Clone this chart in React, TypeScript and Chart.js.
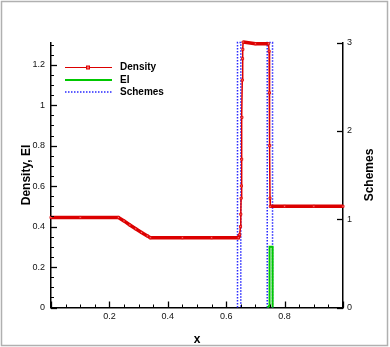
import React, { useEffect, useRef } from 'react';
import { Chart, registerables } from 'chart.js';

Chart.register(...registerables);

// ---- data ----
const densityX = [0, 0.1, 0.231, 0.25, 0.27, 0.29, 0.31, 0.33, 0.34, 0.45, 0.55, 0.642, 0.646, 0.649, 0.65, 0.651, 0.652, 0.653, 0.654, 0.655, 0.656, 0.657, 0.658, 0.7, 0.745, 0.747, 0.748, 0.749, 0.75, 0.751, 0.8, 0.9, 1.0];
const densityY = [0.445, 0.445, 0.445, 0.428, 0.408, 0.389, 0.371, 0.354, 0.345, 0.345, 0.345, 0.345, 0.36, 0.40, 0.461, 0.54, 0.601, 0.733, 0.94, 1.124, 1.23, 1.276, 1.312, 1.304, 1.304, 1.267, 1.061, 0.80, 0.54, 0.5, 0.5, 0.5, 0.5];

const eiX = [0, 0.7416, 0.745, 0.748, 0.7485, 0.7585, 0.759, 1];
const eiY = [0, 0, 0.005, 0.01, 0.30, 0.30, 0, 0];

const schemesX = [0, 0.6387, 0.6387, 0.650, 0.650, 0.7405, 0.7405, 0.7587, 0.7587, 1];
const schemesY = [0, 0, 3, 3, 0, 0, 3, 3, 0, 0];

const xTicks = [0.2, 0.4, 0.6, 0.8];
const xTickLabels = ['0.2', '0.4', '0.6', '0.8'];
const yTicks = [0, 0.2, 0.4, 0.6, 0.8, 1, 1.2];
const yTickLabels = ['0', '0.2', '0.4', '0.6', '0.8', '1', '1.2'];
const y1Ticks = [0, 1, 2, 3];
const y1TickLabels = ['0', '1', '2', '3'];

const FONT = "'Liberation Sans', Arial, Helvetica, sans-serif";
const RED = 'rgb(220,0,0)';
const PINK = 'rgb(255,110,110)';
const GREEN = 'rgb(0,200,0)';
const BLUE = 'rgb(40,40,255)';

const toPts = (xs: number[], ys: number[]) => xs.map((x, i) => ({ x, y: ys[i] }));

const framePlugin = {
  id: 'frame',
  beforeDraw(chart: any) {
    const { ctx } = chart;
    ctx.save();
    ctx.strokeStyle = '#b0b0b0';
    ctx.lineWidth = 1.5;
    ctx.strokeRect(1.5, 1.5, 386, 344);
    ctx.restore();
  },
};

const ticksPlugin = {
  id: 'inTicks',
  afterDatasetsDraw(chart: any) {
    const { ctx, chartArea: a, scales } = chart;
    ctx.save();
    ctx.strokeStyle = '#000';
    const seg = (x1: number, y1: number, x2: number, y2: number, w: number) => {
      ctx.lineWidth = w;
      ctx.beginPath();
      ctx.moveTo(x1, y1);
      ctx.lineTo(x2, y2);
      ctx.stroke();
    };
    for (let i = 0; i <= 20; i++) {
      const px = Math.round(scales.x.getPixelForValue(i * 0.05)) + 0.5;
      const major = i % 4 === 0;
      seg(px, a.bottom, px, a.bottom - (major ? 6 : 3), major ? 1.3 : 1);
    }
    for (let i = 0; i <= 26; i++) {
      const py = Math.round(scales.y.getPixelForValue(i * 0.05)) + 0.5;
      const major = i % 4 === 0;
      seg(a.left, py, a.left + (major ? 6 : 3), py, major ? 1.3 : 1);
    }
    for (const v of y1Ticks) {
      const py = Math.round(scales.y1.getPixelForValue(v)) + 0.5;
      seg(a.right, py, a.right - 6, py, 1.3);
    }
    ctx.restore();
  },
};

const legendPlugin = {
  id: 'customLegend',
  afterDraw(chart: any) {
    const { ctx } = chart;
    ctx.save();
    const x0 = 65, x1 = 112, tx = 120;
    const rows = [67.5, 80, 92];
    // Density
    ctx.strokeStyle = RED;
    ctx.lineWidth = 1;
    ctx.beginPath(); ctx.moveTo(x0, rows[0]); ctx.lineTo(x1, rows[0]); ctx.stroke();
    ctx.fillStyle = PINK;
    ctx.fillRect(86.5, rows[0] - 1.5, 3, 3);
    ctx.strokeRect(86.5, rows[0] - 1.5, 3, 3);
    // EI
    ctx.strokeStyle = GREEN;
    ctx.lineWidth = 2;
    ctx.beginPath(); ctx.moveTo(x0, rows[1]); ctx.lineTo(x1, rows[1]); ctx.stroke();
    // Schemes
    ctx.strokeStyle = BLUE;
    ctx.lineWidth = 1.5;
    ctx.setLineDash([1.5, 1.5]);
    ctx.beginPath(); ctx.moveTo(x0, rows[2]); ctx.lineTo(x1, rows[2]); ctx.stroke();
    ctx.setLineDash([]);
    ctx.fillStyle = '#000';
    ctx.font = `bold 10px ${FONT}`;
    ctx.textBaseline = 'middle';
    ctx.textAlign = 'left';
    ctx.fillText('Density', tx, rows[0]);
    ctx.fillText('EI', tx, rows[1]);
    ctx.fillText('Schemes', tx, rows[2]);
    // right axis title
    const a = chart.chartArea;
    ctx.translate(370, (a.top + a.bottom) / 2);
    ctx.rotate(-Math.PI / 2);
    ctx.textAlign = 'center';
    ctx.font = `bold 12px ${FONT}`;
    ctx.fillText('Schemes', 0, 0);
    ctx.restore();
  },
};

const zeroHidden = (color: string) => (c: any) =>
  c.p0.parsed.y === 0 && c.p1.parsed.y === 0 ? 'rgba(0,0,0,0)' : color;

export default function App() {
  const ref = useRef<HTMLCanvasElement>(null);
  useEffect(() => {
    document.body.style.margin = '0';
    Chart.defaults.font.family = FONT;
    const chart = new Chart(ref.current as HTMLCanvasElement, {
      type: 'line',
      data: {
        datasets: [
          {
            label: 'Density',
            data: toPts(densityX, densityY),
            yAxisID: 'y',
            borderColor: RED,
            borderWidth: 3.5,
            pointStyle: 'rect',
            pointRadius: 1.5,
            pointBackgroundColor: PINK,
            pointBorderColor: RED,
            pointBorderWidth: 0.8,
            tension: 0,
            clip: false,
            segment: {
              borderWidth: (c: any) =>
                Math.abs(c.p1.y - c.p0.y) > 2 * Math.abs(c.p1.x - c.p0.x) + 2 ? 1.5 : 3.5,
            },
          } as any,
          {
            label: 'EI',
            data: toPts(eiX, eiY),
            yAxisID: 'y',
            borderColor: GREEN,
            borderWidth: 2,
            pointRadius: 0,
            tension: 0,
            clip: false,
            segment: { borderColor: zeroHidden(GREEN) },
          } as any,
          {
            label: 'Schemes',
            data: toPts(schemesX, schemesY),
            yAxisID: 'y1',
            borderColor: BLUE,
            borderWidth: 1.5,
            borderDash: [1.5, 1.5],
            pointRadius: 0,
            tension: 0,
            clip: false,
            segment: { borderColor: zeroHidden(BLUE) },
          } as any,
        ],
      },
      options: {
        responsive: false,
        animation: false,
        devicePixelRatio: 1,
        layout: { padding: { top: 42.5, left: 0, right: 0, bottom: 0 } },
        plugins: { legend: { display: false }, tooltip: { enabled: false } },
        scales: {
          x: {
            type: 'linear',
            min: 0,
            max: 1,
            afterBuildTicks: (s: any) => { s.ticks = xTicks.map((v) => ({ value: v })); },
            afterFit: (s: any) => { s.height = 39.5; },
            grid: { display: false, drawTicks: false },
            border: { display: true, color: '#000', width: 1.5 },
            ticks: {
              padding: 4,
              color: '#111',
              font: { size: 9 },
              autoSkip: false,
              maxRotation: 0,
              callback: (_v: any, i: number) => xTickLabels[i],
            },
            title: {
              display: true,
              text: 'x',
              color: '#000',
              font: { size: 12, weight: 'bold' },
              padding: { top: 13, bottom: 0 },
            },
          },
          y: {
            type: 'linear',
            position: 'left',
            min: 0,
            max: 1.31,
            afterBuildTicks: (s: any) => { s.ticks = yTicks.map((v) => ({ value: v })); },
            afterFit: (s: any) => { s.width = 51; },
            grid: { display: false, drawTicks: false },
            border: { display: true, color: '#000', width: 1.5 },
            ticks: {
              padding: 6,
              color: '#111',
              font: { size: 9 },
              autoSkip: false,
              callback: (_v: any, i: number) => yTickLabels[i],
            },
            title: {
              display: true,
              text: 'Density, EI',
              color: '#000',
              font: { size: 12, weight: 'bold' },
              padding: { top: 19, bottom: 0 },
            },
          },
          y1: {
            type: 'linear',
            position: 'right',
            min: 0,
            max: 3,
            afterBuildTicks: (s: any) => { s.ticks = y1Ticks.map((v) => ({ value: v })); },
            afterFit: (s: any) => { s.width = 47; },
            grid: { display: false, drawTicks: false },
            border: { display: true, color: '#000', width: 1.5 },
            ticks: {
              padding: 4,
              color: '#111',
              font: { size: 9 },
              autoSkip: false,
              callback: (_v: any, i: number) => y1TickLabels[i],
            },
          },
        },
      } as any,
      plugins: [framePlugin, ticksPlugin, legendPlugin],
    });
    return () => chart.destroy();
  }, []);
  return (
    <div style={{ position: 'absolute', left: 0, top: 0, width: 390, height: 347 }}>
      <canvas ref={ref} width={390} height={347} style={{ width: 390, height: 347, display: 'block' }} />
    </div>
  );
}
